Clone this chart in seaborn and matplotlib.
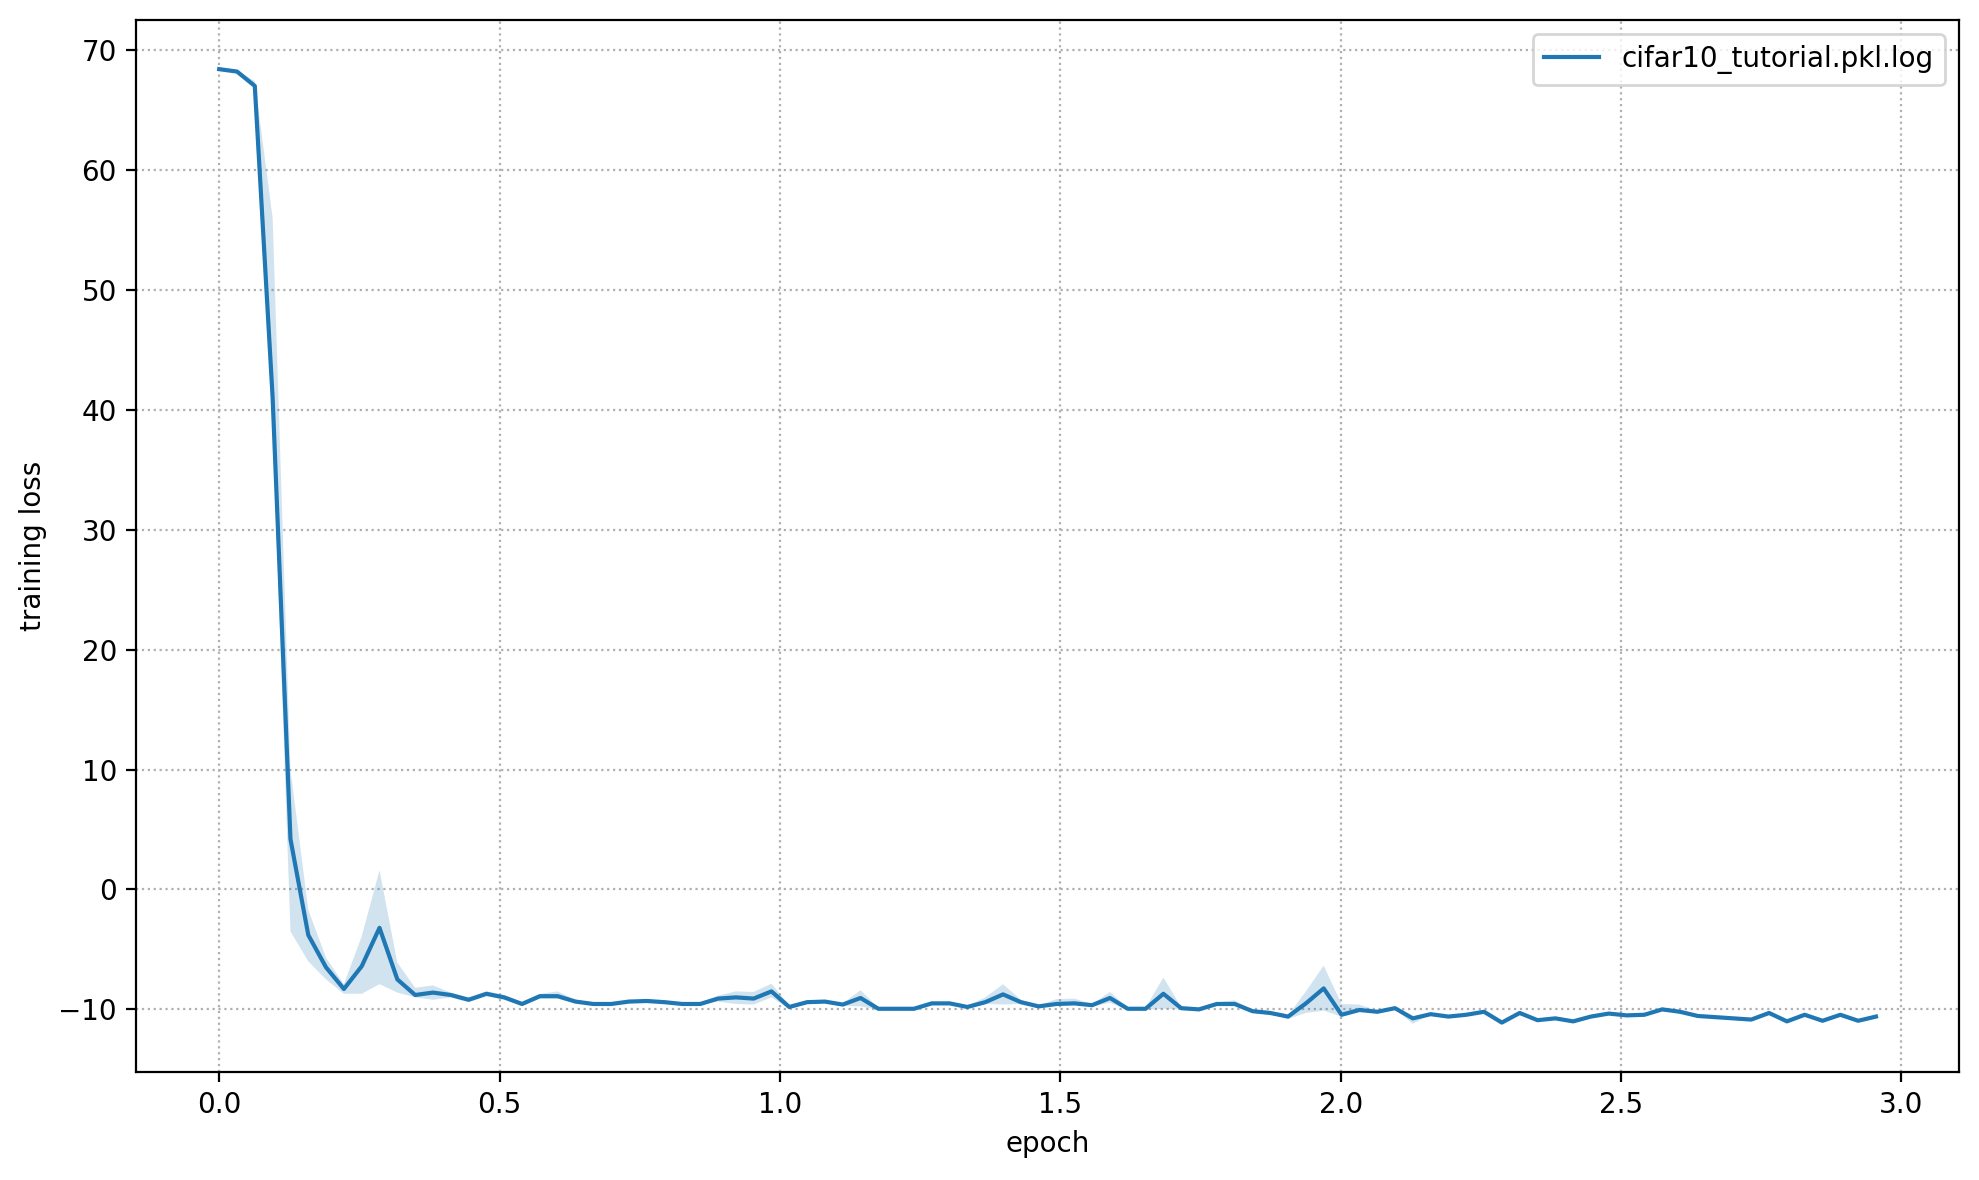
import matplotlib
matplotlib.use("Agg")
import matplotlib.pyplot as plt
import seaborn as sns
import pandas as pd

epoch = [0.0, 0.0318, 0.0635, 0.0953, 0.1271, 0.1589, 0.1906, 0.2224, 0.2542, 0.2859,
         0.3177, 0.3495, 0.3812, 0.4130, 0.4448, 0.4766, 0.5083, 0.5401, 0.5719, 0.6036,
         0.6354, 0.6672, 0.6989, 0.7307, 0.7625, 0.7943, 0.8260, 0.8578, 0.8896, 0.9213,
         0.9531, 0.9849, 1.0166, 1.0484, 1.0802, 1.1120, 1.1437, 1.1755, 1.2073, 1.2390,
         1.2708, 1.3026, 1.3343, 1.3661, 1.3979, 1.4297, 1.4614, 1.4932, 1.5250, 1.5567,
         1.5885, 1.6203, 1.6520, 1.6838, 1.7156, 1.7474, 1.7791, 1.8109, 1.8427, 1.8744,
         1.9062, 1.9380, 1.9697, 2.0015, 2.0333, 2.0651, 2.0968, 2.1286, 2.1604, 2.1921,
         2.2239, 2.2557, 2.2874, 2.3192, 2.3510, 2.3828, 2.4145, 2.4463, 2.4781, 2.5098,
         2.5416, 2.5734, 2.6051, 2.6369, 2.6687, 2.7005, 2.7322, 2.7640, 2.7958, 2.8275,
         2.8593, 2.8911, 2.9228, 2.9546]

loss_mid = [68.4, 68.2, 67.0, 41.0, 4.2, -3.8, -6.5, -8.3, -6.4, -3.2,
            -7.5, -8.8, -8.6, -8.8, -9.2, -8.7, -9.0, -9.55, -8.9, -8.9,
            -9.35, -9.55, -9.55, -9.35, -9.3, -9.4, -9.55, -9.55, -9.1, -9.0,
            -9.1, -8.5, -9.8, -9.4, -9.35, -9.6, -9.05, -9.95, -9.95, -9.95,
            -9.5, -9.5, -9.8, -9.4, -8.75, -9.4, -9.75, -9.55, -9.5, -9.65,
            -9.05, -9.95, -9.95, -8.7, -9.9, -10.0, -9.55, -9.55, -10.15, -10.3,
            -10.6, -9.5, -8.25, -10.45, -10.05, -10.2, -9.9, -10.75, -10.4, -10.6,
            -10.45, -10.2, -11.1, -10.3, -10.9, -10.75, -11.0, -10.6, -10.35, -10.5,
            -10.45, -10.0, -10.2, -10.55, -10.65, -10.75, -10.85, -10.3, -11.0, -10.45,
            -10.95, -10.45, -10.95, -10.6]

loss_hi = [68.5, 68.3, 67.4, 56.0, 10.0, -1.7, -5.7, -7.9, -3.9, 1.6,
           -6.1, -8.2, -8.0, -8.6, -9.0, -8.5, -8.8, -9.4, -8.7, -8.5,
           -9.2, -9.45, -9.45, -9.25, -9.2, -9.3, -9.45, -9.45, -8.85, -8.5,
           -8.55, -7.85, -9.65, -9.3, -9.25, -9.5, -8.4, -9.85, -9.85, -9.85,
           -9.4, -9.4, -9.7, -9.0, -7.9, -9.2, -9.65, -9.15, -9.1, -9.55,
           -8.55, -9.85, -9.85, -7.35, -9.8, -9.9, -9.4, -9.25, -10.05, -10.2,
           -10.5, -8.5, -6.35, -9.55, -9.6, -10.1, -9.8, -10.6, -10.35, -10.55,
           -10.4, -10.15, -11.05, -10.25, -10.85, -10.7, -10.95, -10.55, -10.3, -10.45,
           -10.4, -9.95, -10.15, -10.5, -10.6, -10.7, -10.8, -10.25, -10.95, -10.4,
           -10.9, -10.4, -10.9, -10.55]

loss_lo = [68.3, 68.1, 66.8, 39.0, -3.5, -6.0, -7.5, -8.7, -8.7, -7.9,
           -8.6, -9.0, -9.2, -9.0, -9.4, -8.9, -9.2, -9.7, -9.1, -9.1,
           -9.5, -9.65, -9.65, -9.45, -9.4, -9.5, -9.65, -9.65, -9.35, -9.55,
           -9.6, -9.0, -9.95, -9.5, -9.45, -9.7, -9.75, -10.05, -10.05, -10.05,
           -9.6, -9.6, -9.9, -9.55, -9.6, -9.55, -9.85, -9.7, -9.65, -9.75,
           -9.45, -10.05, -10.05, -9.95, -10.0, -10.1, -9.65, -9.65, -10.25, -10.4,
           -10.8, -10.3, -10.1, -10.6, -10.15, -10.3, -10.0, -11.2, -10.45, -10.65,
           -10.5, -10.25, -11.15, -10.35, -10.95, -10.8, -11.05, -10.65, -10.4, -10.55,
           -10.5, -10.05, -10.25, -10.6, -10.7, -10.8, -10.9, -10.35, -11.05, -10.5,
           -11.0, -10.5, -11.0, -10.65]

series_label = "cifar10_tutorial.pkl.log"

rows = []
for x, lo, mid, hi in zip(epoch, loss_lo, loss_mid, loss_hi):
    for v in (lo, mid, hi):
        rows.append({"epoch": x, "loss": v})
df = pd.DataFrame(rows)

plt.rcParams["font.family"] = ["DejaVu Sans"]
plt.rcParams["font.size"] = 10

fig, ax = plt.subplots(figsize=(9.895, 5.9), dpi=200)
fig.subplots_adjust(left=0.0689, right=0.9898, top=0.9829, bottom=0.0919)

sns.lineplot(data=df, x="epoch", y="loss", estimator="median",
             errorbar=("pi", 100), color="#1f77b4", linewidth=1.5,
             err_kws={"linewidth": 0, "edgecolor": "none", "alpha": 0.2},
             label=series_label, ax=ax)

ax.grid(True, linestyle=":", color="#b0b0b0", linewidth=0.8)
ax.set_axisbelow(True)
ax.set_xlabel("epoch")
ax.set_ylabel("training loss")
ax.legend(loc="upper right")

fig.savefig("out.png", dpi=200)
